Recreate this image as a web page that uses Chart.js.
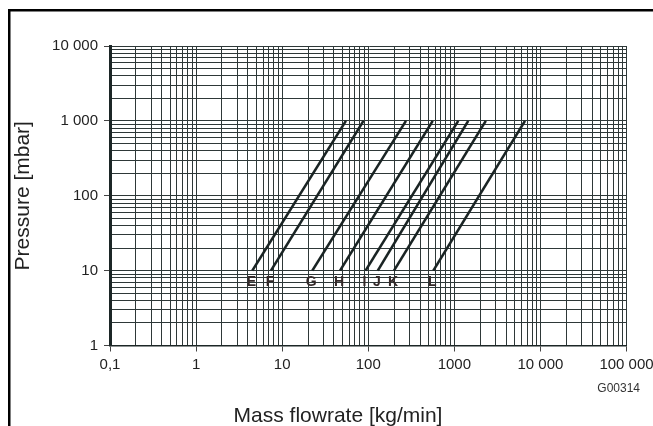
<!DOCTYPE html>
<html><head><meta charset="utf-8">
<script src="https://cdn.jsdelivr.net/npm/chart.js@4.4.1/dist/chart.umd.min.js"></script>
<style>html,body{margin:0;padding:0;background:#fff;} #wrap{width:653px;height:426px;position:relative;}</style>
</head><body><div id="wrap"><canvas id="c" width="653" height="426"></canvas></div>
<script>
// ---- data ----
const curveNames = ['E', 'F', 'G', 'H', 'I', 'J', 'K', 'L'];
const pressureLow = 10;     // mbar, lower end of each curve
const pressureHigh = 1000;  // mbar, upper end of each curve
const flowAtLow = [4.5, 7.4, 22.4, 47, 93, 129, 199, 570];        // kg/min at 10 mbar
const flowAtHigh = [55, 88, 274, 561, 1110, 1450, 2320, 6620];    // kg/min at 1000 mbar
const xTickValues = [0.1, 1, 10, 100, 1000, 10000, 100000];
const xTickLabels = ['0,1', '1', '10', '100', '1000', '10 000', '100 000'];
const yTickValues = [1, 10, 100, 1000, 10000];
const yTickLabels = ['1', '10', '100', '1 000', '10 000'];
const xTitle = 'Mass flowrate [kg/min]';
const yTitle = 'Pressure [mbar]';
const figureCode = 'G00314';

const FONT = "'Liberation Sans', Arial, sans-serif";
const GRID = '#2e3838';
const LINE = '#1a2424';
const TEXT = '#222';

function logGrid(min, max) {
  const out = [];
  const e0 = Math.floor(Math.log10(min) + 1e-9), e1 = Math.ceil(Math.log10(max) - 1e-9);
  for (let e = e0; e <= e1; e++) {
    for (let k = 1; k <= 9; k++) {
      const v = Number((k * Math.pow(10, e)).toPrecision(12));
      if (v >= min * 0.999999 && v <= max * 1.000001) out.push(v);
    }
  }
  return out;
}
function labelFor(values, labels, v) {
  const i = values.findIndex(t => Math.abs(t - v) / t < 1e-9);
  return i >= 0 ? labels[i] : '';
}
function isMajor(values, v) { return values.some(t => Math.abs(t - v) / t < 1e-9); }

const datasets = curveNames.map((n, i) => ({
  label: n,
  data: [{x: flowAtLow[i], y: pressureLow}, {x: flowAtHigh[i], y: pressureHigh}],
  borderColor: LINE, backgroundColor: LINE, borderWidth: 2.6,
  pointRadius: 0, showLine: true, fill: false, tension: 0
}));

const decor = {
  id: 'decor',
  beforeDraw(chart) {
    const ctx = chart.ctx;
    ctx.save();
    ctx.fillStyle = '#fff';
    ctx.fillRect(0, 0, chart.width, chart.height);
    ctx.fillStyle = '#000';
    ctx.fillRect(8, 9, chart.width - 8, 2.5);
    ctx.fillRect(8, 9, 2.5, chart.height - 9);
    ctx.restore();
  },
  afterDatasetsDraw(chart) {
    const ctx = chart.ctx, xs = chart.scales.x, ys = chart.scales.y;
    ctx.save();
    ctx.font = 'bold 14px ' + FONT;
    ctx.fillStyle = '#332828';
    ctx.textAlign = 'center';
    ctx.textBaseline = 'middle';
    curveNames.forEach((n, i) => {
      const px = xs.getPixelForValue(flowAtLow[i]) - 1;
      const py = ys.getPixelForValue(pressureLow) + 12;
      ctx.fillText(n, px, py);
    });
    ctx.restore();
  },
  afterDraw(chart) {
    const ctx = chart.ctx, ca = chart.chartArea;
    ctx.save();
    ctx.fillStyle = TEXT;
    ctx.font = '21px ' + FONT;
    ctx.textAlign = 'center';
    ctx.textBaseline = 'alphabetic';
    ctx.fillText(xTitle, 338, 421.5);
    ctx.translate(29, (ca.top + ca.bottom) / 2);
    ctx.rotate(-Math.PI / 2);
    ctx.fillText(yTitle, 0, 0);
    ctx.restore();
    ctx.save();
    ctx.fillStyle = '#333';
    ctx.font = '12px ' + FONT;
    ctx.textAlign = 'right';
    ctx.textBaseline = 'middle';
    ctx.fillText(figureCode, 640, 389);
    ctx.restore();
  }
};

new Chart(document.getElementById('c'), {
  type: 'scatter',
  data: { datasets },
  plugins: [decor],
  options: {
    responsive: false,
    animation: false,
    events: [],
    layout: { padding: { left: 0, right: 26.5, top: 46, bottom: 0 } },
    plugins: { legend: { display: false }, tooltip: { enabled: false }, title: { display: false } },
    scales: {
      x: {
        type: 'logarithmic',
        min: xTickValues[0], max: xTickValues[xTickValues.length - 1],
        afterBuildTicks: s => { s.ticks = logGrid(s.min, s.max).map(v => ({ value: v, major: isMajor(xTickValues, v) })); },
        afterFit: s => { s.height = 80.5; s.paddingLeft = 0; s.paddingRight = 0; },
        ticks: {
          autoSkip: false, maxRotation: 0, minRotation: 0, padding: 4,
          color: TEXT, font: { family: FONT, size: 15 },
          callback: v => labelFor(xTickValues, xTickLabels, v)
        },
        grid: {
          color: GRID, lineWidth: 1, tickLength: 6, drawTicks: true,
          tickColor: c => (c.tick && isMajor(xTickValues, c.tick.value)) ? '#444' : 'rgba(0,0,0,0)',
          tickWidth: 1
        },
        border: { display: true, color: '#1c2626', width: 1.5 }
      },
      y: {
        type: 'logarithmic',
        min: yTickValues[0], max: yTickValues[yTickValues.length - 1],
        afterBuildTicks: s => { s.ticks = logGrid(s.min, s.max).map(v => ({ value: v, major: isMajor(yTickValues, v) })); },
        afterFit: s => { s.width = 110; s.paddingTop = 0; s.paddingBottom = 0; },
        ticks: {
          autoSkip: false, padding: 6,
          color: TEXT, font: { family: FONT, size: 15 },
          callback: v => labelFor(yTickValues, yTickLabels, v)
        },
        grid: {
          color: GRID, lineWidth: 1, tickLength: 6, drawTicks: true,
          tickColor: c => (c.tick && isMajor(yTickValues, c.tick.value)) ? '#444' : 'rgba(0,0,0,0)',
          tickWidth: 1
        },
        border: { display: true, color: '#1c2626', width: 3 }
      }
    }
  }
});
</script>
</body></html>
